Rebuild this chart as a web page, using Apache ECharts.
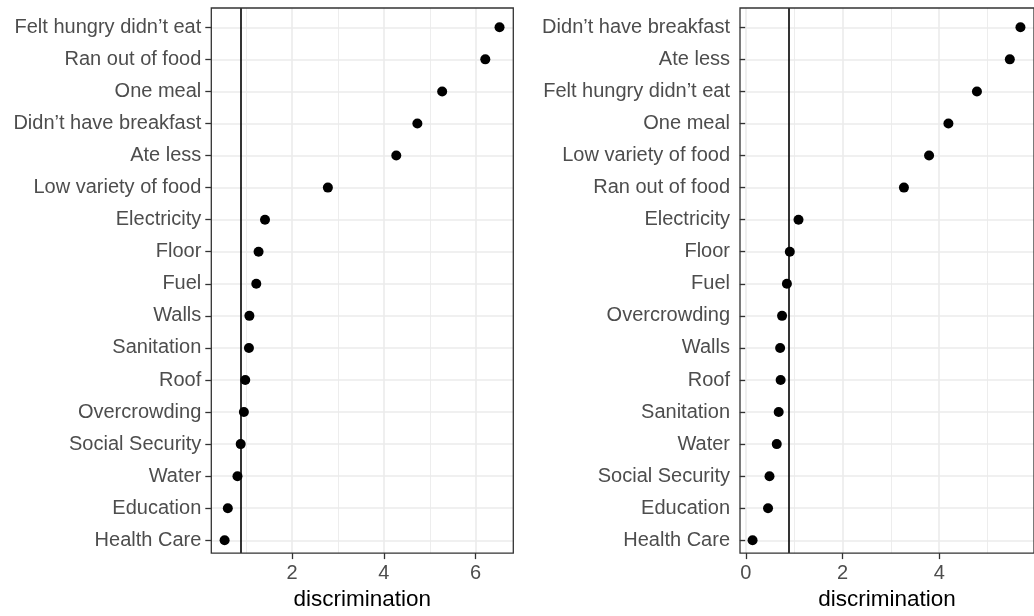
<!DOCTYPE html>
<html>
<head>
<meta charset="utf-8">
<script src="https://cdn.jsdelivr.net/npm/echarts@6/dist/echarts.min.js"></script>
<style>html,body{margin:0;padding:0;background:#fff}#c{width:1034px;height:616px}</style>
</head>
<body>
<div id="c"></div>
<script>
// Left panel (top to bottom)
const leftCategories = ["Felt hungry didn’t eat","Ran out of food","One meal","Didn’t have breakfast","Ate less","Low variety of food","Electricity","Floor","Fuel","Walls","Sanitation","Roof","Overcrowding","Social Security","Water","Education","Health Care"];
const leftValues = [6.52,6.21,5.27,4.73,4.27,2.78,1.41,1.27,1.22,1.07,1.06,0.98,0.95,0.88,0.81,0.60,0.53];
const leftCutoff = 0.88;
const leftRange = [0.24, 6.82];
const leftMajorTicks = [2,4,6];
const leftMinorTicks = [1,3,5];

// Right panel (top to bottom)
const rightCategories = ["Didn’t have breakfast","Ate less","Felt hungry didn’t eat","One meal","Low variety of food","Ran out of food","Electricity","Floor","Fuel","Overcrowding","Walls","Roof","Sanitation","Water","Social Security","Education","Health Care"];
const rightValues = [5.68,5.46,4.78,4.19,3.79,3.27,1.09,0.91,0.85,0.75,0.71,0.72,0.68,0.64,0.49,0.46,0.14];
const rightCutoff = 0.89;
const rightRange = [-0.12, 5.96];
const rightMajorTicks = [0,2,4];
const rightMinorTicks = [1,3,5];

const axisTitle = "discrimination";

const FONT = "Liberation Sans";
const LABEL_SIZE = 20;
const TITLE_SIZE = 22.5;
const GRID_COLOR = "#ebebeb";

const panels = [
  {left: 211.3, width: 302, cats: leftCategories, vals: leftValues, cut: leftCutoff, range: leftRange, major: leftMajorTicks, minor: leftMinorTicks},
  {left: 740, width: 301.3, cats: rightCategories, vals: rightValues, cut: rightCutoff, range: rightRange, major: rightMajorTicks, minor: rightMinorTicks}
];

const grid = [], xAxis = [], yAxis = [], series = [];
panels.forEach((p, k) => {
  const gA = grid.length;
  grid.push({left: p.left, top: 8, width: p.width, height: 551.5, show: true, z: 6, borderColor: "#333333", borderWidth: 1.3, backgroundColor: "transparent", containLabel: false});
  const gB = grid.length;
  grid.push({left: p.left, top: 27.3, width: p.width, height: 513, show: false, containLabel: false});
  const xA = xAxis.length;
  xAxis.push({
    gridIndex: gA, type: "value", min: p.range[0], max: p.range[1],
    axisLine: {show: false},
    axisTick: {show: true, length: 6, customValues: p.major, lineStyle: {color: "#333333", width: 1.3}},
    axisLabel: {show: true, customValues: p.major, margin: 10, color: "#4d4d4d", fontFamily: FONT, fontSize: LABEL_SIZE},
    splitLine: {show: false},
    name: axisTitle, nameLocation: "middle", nameGap: 33,
    nameTextStyle: {color: "#000", fontFamily: FONT, fontSize: TITLE_SIZE}
  });
  const xB = xAxis.length;
  xAxis.push({gridIndex: gB, type: "value", min: p.range[0], max: p.range[1], show: false, splitLine: {show: false}});
  const yA = yAxis.length;
  yAxis.push({gridIndex: gA, type: "value", min: 0, max: 1, show: false, splitLine: {show: false}});
  const yB = yAxis.length;
  yAxis.push({
    gridIndex: gB, type: "category", data: p.cats, inverse: true, boundaryGap: false,
    axisLine: {show: false},
    axisTick: {show: true, length: 6, lineStyle: {color: "#333333", width: 1.3}},
    axisLabel: {margin: 10, color: "#4d4d4d", fontFamily: FONT, fontSize: LABEL_SIZE, interval: 0},
    splitLine: {show: true, lineStyle: {color: GRID_COLOR, width: 1.6}}
  });
  // vertical gridlines (minor then major)
  series.push({
    type: "scatter", xAxisIndex: xA, yAxisIndex: yA, data: [], z: 1, silent: true,
    markLine: {silent: true, z: 1, symbol: "none", label: {show: false}, animation: false,
      data: p.minor.map(v => ({xAxis: v, lineStyle: {color: GRID_COLOR, width: 0.9, type: "solid"}}))
        .concat(p.major.map(v => ({xAxis: v, lineStyle: {color: GRID_COLOR, width: 1.6, type: "solid"}})))}
  });
  // cutoff line
  series.push({
    type: "scatter", xAxisIndex: xA, yAxisIndex: yA, data: [], z: 3, silent: true,
    markLine: {silent: true, z: 3, symbol: "none", label: {show: false}, animation: false,
      data: [{xAxis: p.cut, lineStyle: {color: "#000", width: 1.6, type: "solid"}}]}
  });
  // points
  series.push({
    type: "scatter", xAxisIndex: xB, yAxisIndex: yB, z: 4,
    data: p.vals.map((v, i) => [v, p.cats[i]]),
    symbol: "circle", symbolSize: 10, itemStyle: {color: "#000", opacity: 1},
    animation: false
  });
});

const chart = echarts.init(document.getElementById("c"), null, {renderer: "canvas"});
chart.setOption({animation: false, grid, xAxis, yAxis, series});
</script>
</body>
</html>
